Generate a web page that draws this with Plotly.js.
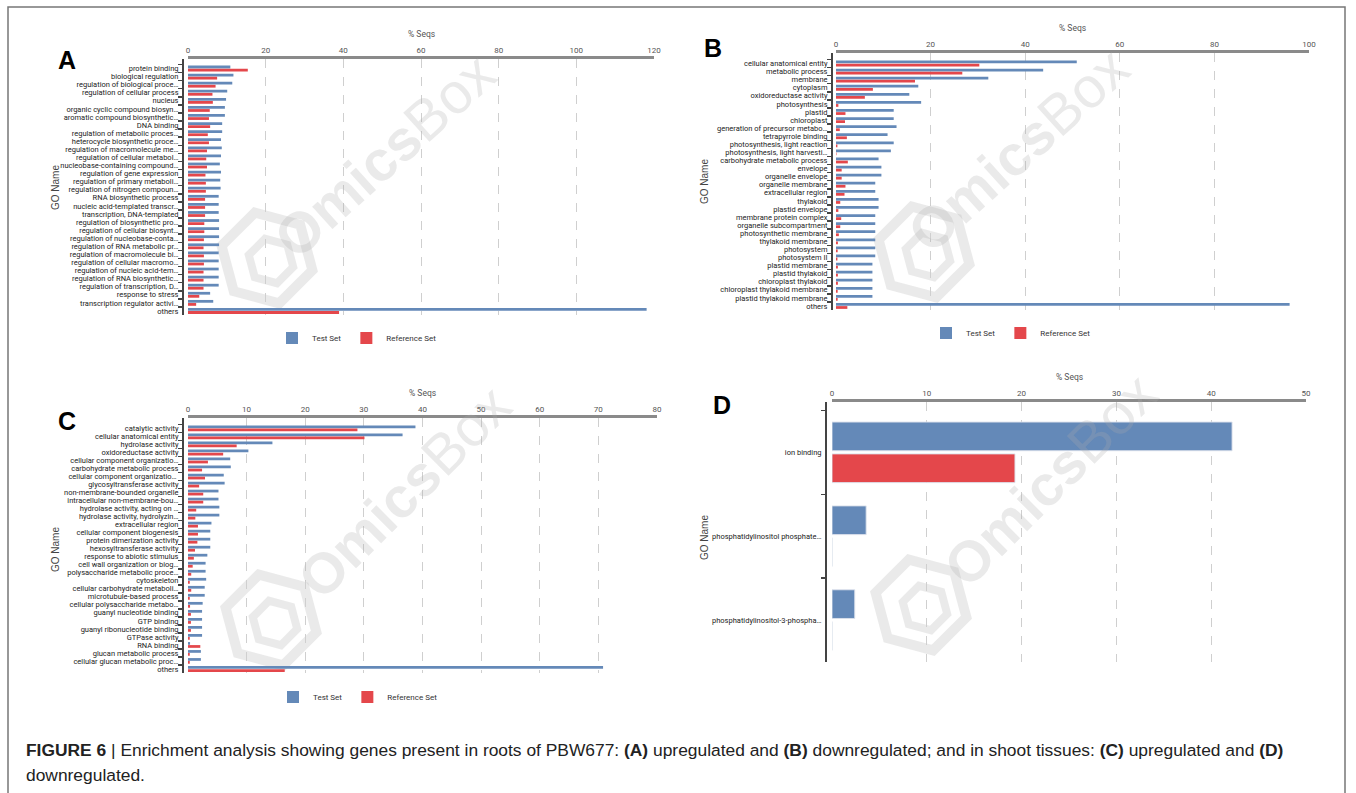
<!DOCTYPE html>
<html>
<head>
<meta charset="utf-8">
<script src="https://cdn.plot.ly/plotly-3.0.1.min.js"></script>
<style>
html,body{margin:0;padding:0;background:#fff;}
#chart{width:1356px;height:793px;}
</style>
</head>
<body>
<div id="chart"></div>
<script>
// ---------------- DATA ----------------
const catsA = ["protein binding","biological regulation","regulation of biological proce…","regulation of cellular process","nucleus","organic cyclic compound biosyn…","aromatic compound biosynthetic…","DNA binding","regulation of metabolic proces…","heterocycle biosynthetic proce…","regulation of macromolecule me…","regulation of cellular metabol…","nucleobase-containing compound…","regulation of gene expression","regulation of primary metaboli…","regulation of nitrogen compoun…","RNA biosynthetic process","nucleic acid-templated transcr…","transcription, DNA-templated","regulation of biosynthetic pro…","regulation of cellular biosynt…","regulation of nucleobase-conta…","regulation of RNA metabolic pr…","regulation of macromolecule bi…","regulation of cellular macromo…","regulation of nucleic acid-tem…","regulation of RNA biosynthetic…","regulation of transcription, D…","response to stress","transcription regulator activi…","others"];
const testA = [10.9,11.7,11.4,10.1,9.8,9.5,9.5,8.8,8.8,8.5,8.7,8.5,8.2,8.5,8.3,8.4,7.9,7.9,7.9,8.0,8.0,8.0,8.0,7.9,7.9,7.9,7.9,7.9,5.7,6.5,118.1];
const refA  = [15.4,7.5,7.1,6.3,6.4,5.6,5.4,5.7,5.1,5.4,4.9,4.7,4.9,4.5,4.6,4.6,4.4,4.4,4.4,4.2,4.2,4.1,4.0,4.1,4.1,4.0,4.0,4.0,2.9,2.1,38.9];

const catsB = ["cellular anatomical entity","metabolic process","membrane","cytoplasm","oxidoreductase activity","photosynthesis","plastid","chloroplast","generation of precursor metabo…","tetrapyrrole binding","photosynthesis, light reaction","photosynthesis, light harvesti…","carbohydrate metabolic process","envelope","organelle envelope","organelle membrane","extracellular region","thylakoid","plastid envelope","membrane protein complex","organelle subcompartment","photosynthetic membrane","thylakoid membrane","photosystem","photosystem II","plastid membrane","plastid thylakoid","chloroplast thylakoid","chloroplast thylakoid membrane","plastid thylakoid membrane","others"];
const testB = [50.9,43.8,32.2,17.4,15.5,18.0,12.2,12.2,12.8,10.9,12.2,11.6,9.0,9.6,9.6,8.3,8.3,9.0,9.0,8.3,8.3,8.3,8.3,8.3,8.3,7.7,7.7,7.7,7.7,7.7,95.9];
const refB  = [30.3,26.7,16.7,7.8,6.1,0.5,2.0,1.9,0.8,2.3,0.3,0.1,2.5,1.2,1.2,2.0,1.8,0.9,0.5,1.1,0.9,0.6,0.4,0.35,0.3,0.4,0.4,0.4,0.35,0.35,2.4];

const catsC = ["catalytic activity","cellular anatomical entity","hydrolase activity","oxidoreductase activity","cellular component organizatio…","carbohydrate metabolic process","cellular component organizatio… ","glycosyltransferase activity","non-membrane-bounded organelle","intracellular non-membrane-bou…","hydrolase activity, acting on …","hydrolase activity, hydrolyzin…","extracellular region","cellular component biogenesis","protein dimerization activity","hexosyltransferase activity","response to abiotic stimulus","cell wall organization or biog…","polysaccharide metabolic proce…","cytoskeleton","cellular carbohydrate metaboli…","microtubule-based process","cellular polysaccharide metabo…","guanyl nucleotide binding","GTP binding","guanyl ribonucleotide binding","GTPase activity","RNA binding","glucan metabolic process","cellular glucan metabolic proc…","others"];
const testC = [38.8,36.6,14.4,10.3,7.2,7.3,6.1,6.25,5.2,5.2,5.35,5.35,4.0,3.8,3.8,3.8,3.3,3.0,3.0,3.1,2.85,2.85,2.5,2.4,2.4,2.4,2.4,0.35,2.2,2.2,70.8];
const refC  = [28.9,30.1,8.3,6.0,3.4,2.4,2.9,1.9,2.6,2.6,1.4,1.25,1.7,1.7,1.6,1.2,1.0,0.8,0.55,0.3,0.55,0.3,0.35,0.5,0.5,0.5,0.3,2.1,0.3,0.3,16.5];

const catsD = ["ion binding","phosphatidylinositol phosphate…","phosphatidylinositol-3-phospha…"];
const testD = [42.2,3.6,2.4];
const refD  = [19.3,0,0];

const seriesNames = ["Test Set","Reference Set"];
const panelLetters = ["A","B","C","D"];
const captionLine1 = "<b>FIGURE 6</b> | Enrichment analysis showing genes present in roots of PBW677: <b>(A)</b> upregulated and <b>(B)</b> downregulated; and in shoot tissues: <b>(C)</b> upregulated and <b>(D)</b>";
const captionLine2 = "downregulated.";

// ---------------- STYLE / LAYOUT HELPERS ----------------
const W = 1356, H = 793;
const BLUE = "#6489B8", RED = "#E4474B";
const LBL_FONT = "Liberation Sans Narrow, Arial Narrow, Roboto, Arial, sans-serif";
const px = x => x / W;
const py = y => 1 - y / H;

const geo = {
  A: {x0:188, x1:654, yt:59,  yb:315, spine:182, yr:[30.5,-1.18], xr:[0,120], dt:20},
  B: {x0:836, x1:1309, yt:53, yb:310, spine:831, yr:[30.5,-1.3],  xr:[0,100], dt:20},
  C: {x0:188, x1:657, yt:418, yb:673, spine:182, yr:[30.5,-1.3],  xr:[0,80],  dt:10},
  D: {x0:832, x1:1306, yt:402, yb:662, spine:825, yr:[2.5,-0.6],  xr:[0,50],  dt:10}
};

const data = [];
const panels = [
  {k:"A", cats:catsA, t:testA, r:refA, ax:"", legend:"legend"},
  {k:"B", cats:catsB, t:testB, r:refB, ax:"2", legend:"legend2"},
  {k:"C", cats:catsC, t:testC, r:refC, ax:"3", legend:"legend3"},
  {k:"D", cats:catsD, t:testD, r:refD, ax:"4", legend:null}
];

panels.forEach(p => {
  const isD = p.k === "D";
  [[p.t, BLUE, seriesNames[0]], [p.r, RED, seriesNames[1]]].forEach(s => {
    const tr = {
      type:"bar", orientation:"h",
      x:s[0], y:p.cats, name:s[2],
      xaxis:"x"+p.ax, yaxis:"y"+p.ax,
      marker:{color:s[1], line:{color: isD ? "rgba(220,225,235,0.9)" : "rgba(0,0,0,0)", width: isD ? 1 : 0}},
      hoverinfo:"x+y"
    };
    if (p.legend) { tr.legend = p.legend; tr.showlegend = true; }
    else tr.showlegend = false;
    data.push(tr);
  });
});

const layout = {
  width:W, height:H,
  margin:{l:0,r:0,t:0,b:0},
  paper_bgcolor:"#fff", plot_bgcolor:"rgba(0,0,0,0)",
  barmode:"group", bargap:0.24, bargroupgap:0.1,
  font:{family:"Arial, Liberation Sans, sans-serif", color:"#333"},
  annotations:[], shapes:[]
};

panels.forEach(p => {
  const g = geo[p.k];
  layout["xaxis"+p.ax] = {
    domain:[px(g.x0), px(g.x1)], anchor:"y"+p.ax, side:"top",
    range:g.xr, dtick:g.dt, tick0:0, tickmode:"linear", autorange:false,
    showline:true, linecolor:"#8a8a8a", linewidth:3,
    ticks:"", showgrid:true, gridcolor:"#cfcfcf", griddash:"dash", gridwidth:1,
    zeroline:false, automargin:false,
    tickfont:{size:8, color:"#555", family:LBL_FONT}
  };
  layout["yaxis"+p.ax] = {
    domain:[py(g.yb), py(g.yt)], anchor:"free", position:px(g.spine),
    type:"category", categoryorder:"array", categoryarray:p.cats,
    tickmode:"linear", tick0:0, dtick:1,
    range:g.yr, autorange:false,
    showline:true, linecolor:"#444", linewidth:1.5,
    ticks:"outside", ticklen:4, tickcolor:"#444", tickwidth:1.5, tickson:"boundaries",
    ticklabelstandoff:2,
    showgrid:false, zeroline:false, automargin:false,
    tickfont:{size:7.5, color:"#222", family:LBL_FONT}
  };
  layout.annotations.push({
    text:"% Seqs", xref:"paper", yref:"paper",
    x:px((g.x0+g.x1)/2), y:py(g.yt-25), xanchor:"center", yanchor:"middle",
    showarrow:false, font:{size:8.5, color:"#555", family:LBL_FONT}
  });
});

// GO Name titles
[[55,188],[704,182],[55,550],[704,538]].forEach(c => {
  layout.annotations.push({
    text:"GO Name", xref:"paper", yref:"paper", x:px(c[0]), y:py(c[1]),
    xanchor:"center", yanchor:"middle", textangle:-90, showarrow:false,
    font:{size:10, color:"#444", family:"Arial, Liberation Sans, sans-serif"}
  });
});

// panel letters
[[67,60],[713,48],[67,421],[722,405]].forEach((c,i) => {
  layout.annotations.push({
    text:"<b>"+panelLetters[i]+"</b>", xref:"paper", yref:"paper", x:px(c[0]), y:py(c[1]),
    xanchor:"center", yanchor:"middle", showarrow:false,
    font:{size:25, color:"#000", family:"Arial, Liberation Sans, sans-serif"}
  });
});

// legends
const legBase = {orientation:"h", xanchor:"center", yanchor:"middle", bgcolor:"rgba(0,0,0,0)",
  font:{size:8, color:"#333", family:LBL_FONT}, itemwidth:30, traceorder:"normal"};
layout.legend  = Object.assign({}, legBase, {x:px(357), y:py(338)});
layout.legend2 = Object.assign({}, legBase, {x:px(1011), y:py(333)});
layout.legend3 = Object.assign({}, legBase, {x:px(358), y:py(697)});

// watermarks
function hexPath(cx, cy, r, rotDeg) {
  let d = "";
  for (let k = 0; k < 6; k++) {
    const a = (rotDeg + 60*k) * Math.PI/180;
    const x = px(cx + r*Math.cos(a)), y = py(cy + r*Math.sin(a));
    d += (k === 0 ? "M" : "L") + x.toFixed(5) + "," + y.toFixed(5) + " ";
  }
  return d + "Z";
}
const wmColor = "rgba(175,175,175,0.26)";
[[267,258],[924,252],[271,620],[921,605]].forEach(c => {
  layout.shapes.push({type:"path", xref:"paper", yref:"paper", path:hexPath(c[0],c[1],47,15),
    line:{color:wmColor, width:10}, layer:"below"});
  layout.shapes.push({type:"path", xref:"paper", yref:"paper", path:hexPath(c[0]+4,c[1]+3,23,15),
    line:{color:wmColor, width:8}, layer:"below"});
});
[[385,155,-42],[1018,150,-42],[404,492,-45],[1050,480,-45]].forEach(c => {
  layout.annotations.push({
    text:"<b>Omics</b>Box", xref:"paper", yref:"paper", x:px(c[0]), y:py(c[1]),
    xanchor:"center", yanchor:"middle", textangle:c[2], showarrow:false,
    font:{size:57, color:"rgba(170,170,170,0.25)", family:"Arial, Liberation Sans, sans-serif"}
  });
});

// caption
layout.annotations.push({
  text:captionLine1, xref:"paper", yref:"paper", x:px(24), y:py(750),
  xanchor:"left", yanchor:"middle", showarrow:false, align:"left",
  font:{size:17.4, color:"#222", family:"Liberation Sans, Arial, sans-serif"}
});
layout.annotations.push({
  text:captionLine2, xref:"paper", yref:"paper", x:px(24), y:py(775),
  xanchor:"left", yanchor:"middle", showarrow:false, align:"left",
  font:{size:17.4, color:"#222", family:"Liberation Sans, Arial, sans-serif"}
});

// outer frame
layout.shapes.push({type:"rect", xref:"paper", yref:"paper", x0:px(8), x1:px(1345), y0:-0.02, y1:py(7),
  line:{color:"#777", width:1.5}, fillcolor:"rgba(0,0,0,0)", layer:"above"});

Plotly.newPlot("chart", data, layout, {staticPlot:true, displayModeBar:false});
</script>
</body>
</html>
